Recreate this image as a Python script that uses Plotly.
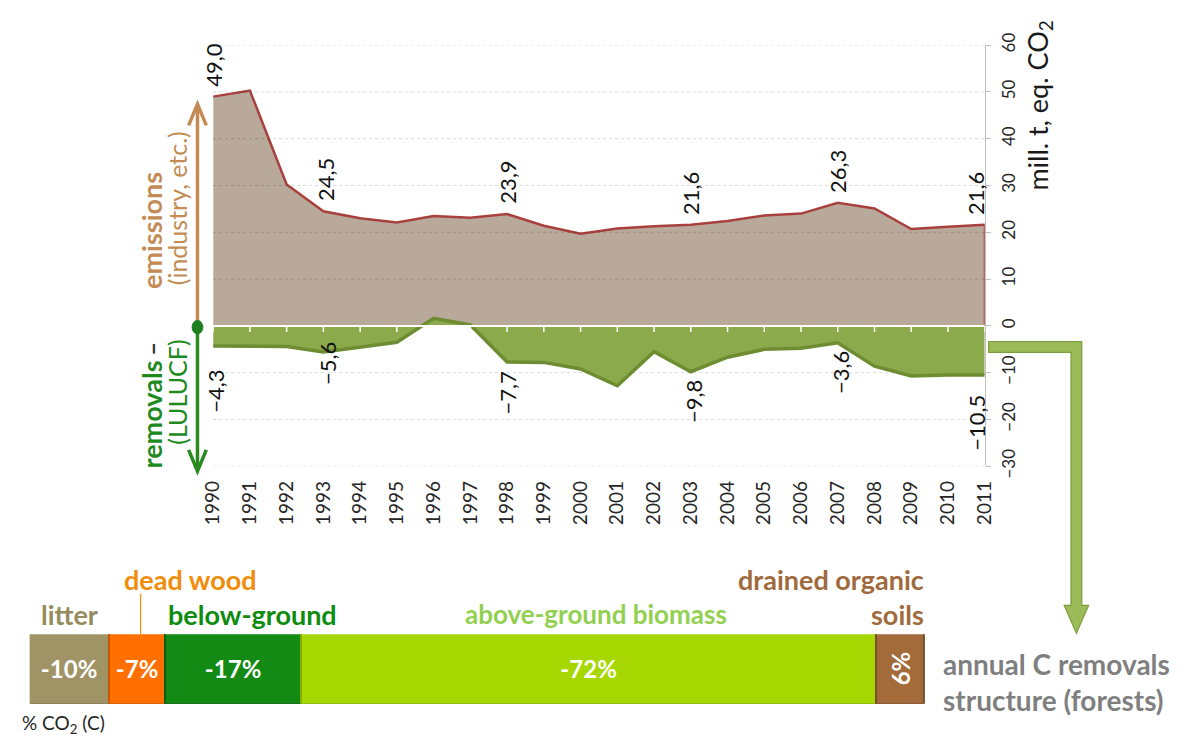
import plotly.graph_objects as go

# ---------------- data ----------------
years = list(range(1990, 2012))
emissions = [49.0, 50.3, 30.2, 24.5, 23.0, 22.1, 23.5, 23.1, 23.9, 21.4, 19.7,
             20.8, 21.3, 21.6, 22.4, 23.6, 24.0, 26.3, 25.1, 20.7, 21.2, 21.6]
removals = [-4.3, -4.3, -4.4, -5.6, -4.6, -3.5, 1.6, 0.2, -7.7, -7.8, -9.2,
            -12.8, -5.5, -9.8, -6.7, -5.0, -4.8, -3.6, -8.6, -10.7, -10.5, -10.5]
labelled_years = [1990, 1993, 1998, 2003, 2007, 2011]
y_ticks = [60, 50, 40, 30, 20, 10, 0, -10, -20, -30]

pools = ["litter", "dead wood", "below-ground", "above-ground biomass", "drained organic soils"]
pool_shares = [-10, -7, -17, -72, 6]

# ---------------- styles ----------------
# page body keeps the browser's default 8px margin -> figure is 16px smaller than the window
OFF = 8
W, H = 1189 - 2 * OFF, 748 - 2 * OFF
FONT = "Lato"
BROWN_TXT = "#C38C55"
GREEN_TXT = "#1E8A1E"
GREEN_ARROW = "#2A8A22"
pool_colors = ["#A09466", "#FF7000", "#138A13", "#A6D700", "#A36A3A"]
pool_edges = ["#7C7250", "#C85800", "#0B5E0B", "#86AE00", "#7A4E2A"]
pool_text_colors = ["#978B60", "#F08E0C", "#0E8C0E", "#92D050", "#A06A3C"]
rem_label_shift = [-22, 12, -8, -6, -6, -18]
rem_label_xshift = [2, 4, 0, 2, 2, -9]
emi_label_xshift = [0, 2, 0, 0, 0, -9]


def px(x):
    return (x - OFF) / W


def py(y):
    return 1 - (y - OFF) / H


def ppath(pts, close=False):
    s = "M " + " L ".join(f"{px(a):.5f},{py(b):.5f}" for a, b in pts)
    return s + (" Z" if close else "")


fig = go.Figure()

# emissions area
fig.add_trace(go.Scatter(x=years, y=emissions, mode="lines", fill="tozeroy",
                         fillcolor="#B8A99B", line=dict(color="#A8413D", width=2.5),
                         hoverinfo="skip", showlegend=False))
fig.add_trace(go.Scatter(x=[years[-1], years[-1]], y=[0, emissions[-1]], mode="lines",
                         line=dict(color="#A8413D", width=2), hoverinfo="skip", showlegend=False))
# removals area
fig.add_trace(go.Scatter(x=years, y=removals, mode="lines", fill="tozeroy",
                         fillcolor="#8BAA4B", line=dict(color="#6E8D33", width=3.5),
                         hoverinfo="skip", showlegend=False))

# stacked structure bar
for name, share, col, edge in zip(pools, pool_shares, pool_colors, pool_edges):
    fig.add_trace(go.Bar(x=[abs(share)], y=[0], orientation="h", xaxis="x2", yaxis="y2",
                         marker=dict(color=col, line=dict(color=edge, width=1.5)),
                         text=[f"{share}%"], textposition="inside", insidetextanchor="middle",
                         textangle=-90 if share > 0 else 0,
                         textfont=dict(family=FONT, size=24, color="white", weight="bold"),
                         constraintext="none",
                         hoverinfo="skip", showlegend=False, name=name))

shapes = []
# gridlines
for v in y_ticks:
    if v == 0:
        continue
    shapes.append(dict(type="line", xref="x domain", yref="y", x0=0, x1=1, y0=v, y1=v,
                       line=dict(color="rgba(0,0,0,0.16)" if v > 0 else "#D9D9D9", width=1, dash="dot"),
                       layer="above" if v > 0 else "below"))
# zero axis with white ticks
shapes.append(dict(type="line", xref="x domain", yref="y", x0=0, x1=1, y0=0, y1=0,
                   line=dict(color="white", width=2), layer="above"))
for yr in years:
    shapes.append(dict(type="line", xref="x", yref="y", x0=yr, x1=yr, y0=0, y1=-1.3,
                       line=dict(color="white", width=1.5), layer="above"))

# vertical arrows on the left (shaft + open chevron head)
shapes.append(dict(type="path", xref="paper", yref="paper", path=ppath([(188, 96), (188, 325)]),
                   line=dict(color=BROWN_TXT, width=3.5)))
shapes.append(dict(type="path", xref="paper", yref="paper",
                   path=ppath([(179, 116), (188, 94), (197, 116)]),
                   line=dict(color=BROWN_TXT, width=3.5)))
shapes.append(dict(type="path", xref="paper", yref="paper", path=ppath([(188, 325), (188, 472)]),
                   line=dict(color=GREEN_ARROW, width=3.5)))
shapes.append(dict(type="path", xref="paper", yref="paper",
                   path=ppath([(179, 452), (188, 474), (197, 452)]),
                   line=dict(color=GREEN_ARROW, width=3.5)))
# green dot on the left arrow
shapes.append(dict(type="circle", xref="paper", yref="paper",
                   x0=px(182.5), x1=px(193.5), y0=py(332), y1=py(318),
                   fillcolor="#1E7F1E", line=dict(color="#1E7F1E", width=1)))
# dead wood pointer
shapes.append(dict(type="line", xref="paper", yref="paper", x0=px(130), x1=px(130),
                   y0=py(601), y1=py(643), line=dict(color="#F08E0C", width=1.2)))
# bent connector arrow
pts = [(995, 340), (1090, 340), (1090, 613), (1097, 613), (1084.5, 642), (1072, 613),
       (1079, 613), (1079, 351), (995, 351)]
shapes.append(dict(type="path", xref="paper", yref="paper", path=ppath(pts, close=True),
                   fillcolor="#9BBB59", line=dict(color="#7E9E3E", width=1.2)))

annotations = []


def fmt(v):
    s = f"{abs(v):.1f}".replace(".", ",")
    return ("\u2212" + s) if v < 0 else s


for i, yr in enumerate(labelled_years):
    k = years.index(yr)
    annotations.append(dict(x=yr, y=emissions[k], xref="x", yref="y", text=fmt(emissions[k]),
                            textangle=-90, showarrow=False, xanchor="center", yanchor="bottom",
                            yshift=8, xshift=emi_label_xshift[i],
                            font=dict(family=FONT, size=22, color="#111111")))
    annotations.append(dict(x=yr, y=removals[k], xref="x", yref="y", text=fmt(removals[k]),
                            textangle=-90, showarrow=False, xanchor="center", yanchor="top",
                            yshift=rem_label_shift[i], xshift=rem_label_xshift[i],
                            font=dict(family=FONT, size=22, color="#111111")))


# rotated labels
def side_label(text, x, y, color, size, bold):
    annotations.append(dict(x=px(x), y=py(y), xref="paper", yref="paper", text=text,
                            textangle=-90, showarrow=False, xanchor="center", yanchor="middle",
                            font=dict(family=FONT, size=size, color=color,
                                      weight="bold" if bold else "normal")))


side_label("emissions", 141, 225, BROWN_TXT, 27, True)
side_label("\u2013", 141, 347, "#333333", 24, True)
side_label("removals", 141, 415, GREEN_TXT, 27, True)
side_label("(industry, etc.)", 167, 202, BROWN_TXT, 25, False)
side_label("(LULUCF)", 167, 392, GREEN_TXT, 25, False)
side_label("mill. t, eq. CO<sub>2</sub>", 1047, 96, "#1A1A1A", 27, False)


# bottom texts
def text_at(text, x, y, color, size, bold=True, xanchor="center", align="center"):
    annotations.append(dict(x=px(x), y=py(y), xref="paper", yref="paper", text=text,
                            showarrow=False, xanchor=xanchor, yanchor="middle", align=align,
                            font=dict(family=FONT, size=size, color=color,
                                      weight="bold" if bold else "normal")))


text_at(pools[0], 57, 622, pool_text_colors[0], 27)
text_at(pools[1], 181, 586, pool_text_colors[1], 27)
text_at(pools[2], 244, 622, pool_text_colors[2], 27)
text_at(pools[3], 594, 622, pool_text_colors[3], 26)
text_at("drained organic<br>soils", 931, 604, pool_text_colors[4], 27, xanchor="right", align="right")
text_at("annual C removals<br>structure (forests)", 946, 692, "#7F7F7F", 28, xanchor="left", align="left")
text_at("% CO<sub>2</sub> (C)", 7, 736, "#262626", 19, bold=False, xanchor="left", align="left")

fig.update_layout(
    width=W, height=H, margin=dict(l=0, r=0, t=0, b=0),
    paper_bgcolor="white", plot_bgcolor="white",
    font=dict(family=FONT, color="#262626"),
    barmode="stack", bargap=0,
    shapes=shapes, annotations=annotations,
    xaxis=dict(domain=[px(204), px(991)], range=[1990, 2011], tickvals=years,
               ticktext=[str(y) for y in years], tickangle=-90, showgrid=False,
               zeroline=False, showline=False, ticks="", ticklabelstandoff=10,
               tickfont=dict(family=FONT, size=19, color="#262626"), anchor="y", fixedrange=True),
    yaxis=dict(domain=[py(469), py(33)], range=[-30, 60], tickvals=y_ticks, side="right",
               tickangle=-90, showgrid=False, zeroline=False, showline=True, linecolor="#BFBFBF",
               linewidth=1, ticks="outside", ticklen=5, tickcolor="#BFBFBF",
               ticklabelstandoff=4,
               tickfont=dict(family=FONT, size=17, color="#262626"), anchor="x", fixedrange=True),
    xaxis2=dict(domain=[px(17), px(930)], range=[0, sum(abs(s) for s in pool_shares)],
                visible=False, anchor="y2", fixedrange=True),
    yaxis2=dict(domain=[py(715), py(643)], range=[-0.5, 0.5], visible=False,
                anchor="x2", fixedrange=True),
)

fig.write_html("out.html", config={"displayModeBar": False})
